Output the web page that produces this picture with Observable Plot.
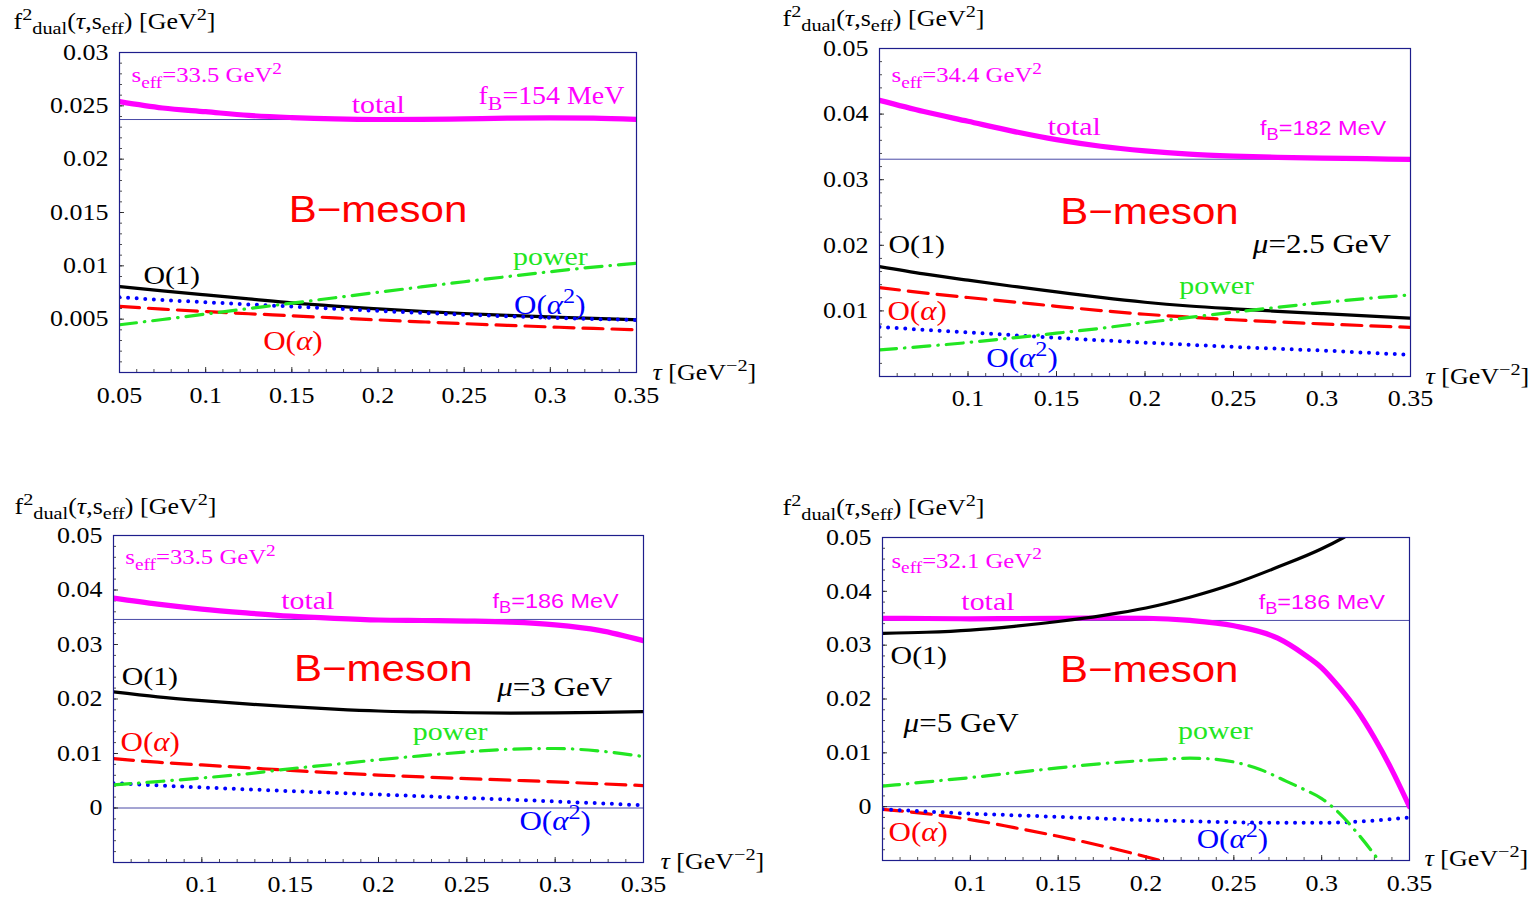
<!DOCTYPE html>
<html><head><meta charset="utf-8">
<script src="https://cdn.jsdelivr.net/npm/d3@7"></script>
<script src="https://cdn.jsdelivr.net/npm/@observablehq/plot@0.6"></script>
<style>
body{margin:0;background:#fff;}
#wrap{position:relative;width:1533px;height:899px;overflow:hidden;background:#fff;}
</style></head><body><div id="wrap"></div>
<script>
// ---------- data ----------
const tauGrid = [0.05,0.075,0.1,0.125,0.15,0.175,0.2,0.225,0.25,0.275,0.3,0.325,0.35];

const p1Total = [0.0254,0.0248,0.02445,0.0241,0.0239,0.02377,0.02372,0.02373,0.02378,0.02384,0.02387,0.02384,0.02373];
const p1O1    = [0.00806,0.00765,0.00727,0.0069,0.00652,0.00622,0.00597,0.00574,0.00553,0.00536,0.00521,0.00507,0.00494];
const p1Oa    = [0.0062,0.00594,0.00572,0.00551,0.00532,0.00512,0.00493,0.00475,0.00458,0.00442,0.00427,0.00413,0.00401];
const p1Oa2   = [0.00706,0.0068,0.00659,0.00638,0.00619,0.00598,0.00578,0.00559,0.00542,0.00527,0.00513,0.00502,0.00492];
const p1Power = [0.00447,0.00497,0.00548,0.00599,0.0065,0.00701,0.00752,0.00802,0.00851,0.00899,0.00945,0.00988,0.01024];

const p2Total = [0.0421,0.0404,0.0389,0.0374,0.0361,0.0351,0.0344,0.0339,0.0336,0.0334,0.0333,0.0332,0.0331];
const p2O1    = [0.01676,0.01565,0.01468,0.01376,0.0129,0.01205,0.01132,0.01075,0.01032,0.00994,0.00958,0.00923,0.0089];
const p2Oa    = [0.01356,0.01275,0.01204,0.01138,0.0107,0.01005,0.00949,0.00905,0.00865,0.00832,0.00802,0.00775,0.0075];
const p2Oa2   = [0.00756,0.00712,0.00672,0.00631,0.0059,0.00552,0.00516,0.00483,0.00452,0.00423,0.00396,0.00363,0.0033];
const p2Power = [0.00405,0.00458,0.00518,0.00588,0.0066,0.00735,0.00821,0.009,0.0098,0.01055,0.01125,0.01188,0.01244];

const p3Total = [0.0385,0.0374,0.0365,0.0358,0.0352,0.0348,0.0345,0.0344,0.0343,0.0341,0.0336,0.0326,0.0307];
const p3O1    = [0.0213,0.0204,0.0197,0.0191,0.0186,0.01815,0.0178,0.01762,0.01748,0.01742,0.01745,0.01755,0.0177];
const p3Oa    = [0.00905,0.0084,0.0079,0.0074,0.0069,0.00645,0.00605,0.0057,0.0054,0.0051,0.0048,0.00445,0.00412];
const p3Oa2   = [0.00456,0.00415,0.00377,0.00343,0.0031,0.00278,0.00247,0.00215,0.00184,0.00153,0.0012,0.00086,0.0005];
const p3Power = [0.00424,0.00485,0.0055,0.00625,0.0072,0.008,0.00885,0.0096,0.0103,0.01078,0.01092,0.01045,0.00943];

const p4TotalTau = [0.05,0.075,0.1,0.125,0.15,0.175,0.2,0.225,0.25,0.275,0.29,0.3,0.31,0.32,0.33,0.34,0.35];
const p4Total    = [0.035,0.03495,0.0349,0.03495,0.035,0.03505,0.035,0.0346,0.0336,0.0313,0.0283,0.0258,0.0222,0.018,0.0128,0.0068,0.0];
const p4O1Tau = [0.05,0.075,0.1,0.125,0.15,0.175,0.2,0.225,0.25,0.275,0.3,0.3125,0.325];
const p4O1    = [0.0322,0.0324,0.0328,0.0335,0.0344,0.0355,0.0369,0.0389,0.0414,0.0445,0.0479,0.0500,0.0524];
const p4OaTau = [0.05,0.075,0.1,0.125,0.15,0.175,0.2,0.225];
const p4Oa    = [-0.0005,-0.0013,-0.0024,-0.0039,-0.0055,-0.0073,-0.0093,-0.0115];
const p4Oa2   = [-0.0005,-0.0009,-0.0013,-0.0016,-0.0019,-0.0022,-0.0025,-0.0027,-0.0029,-0.003,-0.003,-0.0027,-0.002];
const p4PowerTau = [0.05,0.075,0.1,0.125,0.15,0.175,0.2,0.225,0.24,0.25,0.265,0.28,0.29,0.3,0.31,0.32,0.3325,0.34];
const p4Power    = [0.0038,0.0046,0.0054,0.0063,0.0072,0.008,0.0086,0.009,0.0088,0.0083,0.0069,0.0047,0.0032,0.0015,-0.0012,-0.0048,-0.01,-0.0135];

const fBValues = [154, 182, 186, 186]; // MeV
const seffValues = ["33.5", "34.4", "33.5", "32.1"];
const muLabels = [null, "2.5", "3", "5"];

const xTicks1 = [0.05,0.1,0.15,0.2,0.25,0.3,0.35];
const xTicks234 = [0.1,0.15,0.2,0.25,0.3,0.35];
const yTicks1 = [0.005,0.01,0.015,0.02,0.025,0.03];
const yTicks2 = [0.01,0.02,0.03,0.04,0.05];
const yTicks34 = [0,0.01,0.02,0.03,0.04,0.05];

const yLabel = "f^{2}_{dual}(~{τ},s_{eff}) [GeV^{2}]";
const xLabel = "~{τ} [GeV^{−2}]";

// ---------- styles ----------
const MAG="#ff00ff", RED="#ff0000", BLUE="#0000ff", GREEN="#22e622", BLACK="#000000";
const NAVY="#1e1e8c", RULE="#4a4aa6", TICK="#222222";
const SERIF="'Liberation Serif','Times New Roman',serif", SANS="'Liberation Sans',Arial,sans-serif";
const SX = 1.15; // horizontal stretch of the glyphs seen in the reference

function richText(el, src){
  const NS="http://www.w3.org/2000/svg";
  while (el.firstChild) el.removeChild(el.firstChild);
  const parts = src.split(/(_\{[^}]*\}|\^\{[^}]*\}|~\{[^}]*\})/g).filter(s=>s.length);
  let cur = 0;
  for (const p of parts){
    let txt=p, off=0, k=1, it=false;
    if (p.startsWith("_{")) {txt=p.slice(2,-1); off=0.25; k=0.78;}
    else if (p.startsWith("^{")) {txt=p.slice(2,-1); off=-0.4; k=0.78;}
    else if (p.startsWith("~{")) {txt=p.slice(2,-1); it=true;}
    const ts=document.createElementNS(NS,"tspan");
    const dy=(off-cur)/k;
    if (Math.abs(dy)>1e-9) ts.setAttribute("dy", dy.toFixed(3)+"em");
    if (k!==1) ts.setAttribute("font-size", (k*100)+"%");
    if (it) ts.setAttribute("font-style","italic");
    ts.textContent=txt;
    el.appendChild(ts);
    cur=off;
  }
}

function series(tau, vals){ return tau.map((t,i)=>({t, v: vals[i]})); }

const styleTotal = {stroke: MAG, strokeWidth: 5.2};
const styleO1 = {stroke: BLACK, strokeWidth: 3.2};
const styleOa = {stroke: RED, strokeWidth: 3.2, strokeDasharray: "20,9"};
const styleOa2 = {stroke: BLUE, strokeWidth: 4, strokeDasharray: "0,8.6", strokeLinecap: "round"};
const stylePower = {stroke: GREEN, strokeWidth: 3.2, strokeDasharray: "17,8,0.5,8", strokeLinecap: "round"};

const FT = 22.6, FL = 26, FA = 27, FS = 21.5, FB = 36.5;

// ---------- panel layout ----------
const panels = [
  {left:0, top:0, width:766, height:440, mL:119, mT:52, mR:130, mB:68,
   yDomain:[0,0.03], yTicks:yTicks1, yMinorStep:0.001, xTicks:xTicks1, xPad:14, zero:false,
   ylab:[-106,-31], xlab:[16,0],
   lines:[[tauGrid,p1Total,styleTotal],[tauGrid,p1O1,styleO1],[tauGrid,p1Oa,styleOa],[tauGrid,p1Oa2,styleOa2],[tauGrid,p1Power,stylePower]],
   labels:[
     {t:`s_{eff}=${seffValues[0]} GeV^{2}`, x:0.057, y:0.02785, a:"start", c:MAG, s:FS, f:SERIF},
     {t:"total", x:0.2002, y:0.02513, a:"middle", c:MAG, s:FL, f:SERIF},
     {t:`f_{B}=${fBValues[0]} MeV`, x:0.343, y:0.02588, a:"end", c:MAG, s:24.3, f:SERIF},
     {t:"B−meson", x:0.2, y:0.0152, a:"middle", c:RED, s:FB, f:SANS},
     {t:"O(1)", x:0.0639, y:0.00912, a:"start", c:BLACK, s:FL, f:SERIF},
     {t:"power", x:0.30, y:0.0109, a:"middle", c:GREEN, s:FL, f:SERIF},
     {t:"O(~{α}^{2})", x:0.2997, y:0.00631, a:"middle", c:BLUE, s:FA, f:SERIF},
     {t:"O(~{α})", x:0.1506, y:0.00294, a:"middle", c:RED, s:FA, f:SERIF}
   ]},
  {left:766, top:0, width:767, height:440, mL:113, mT:48, mR:123, mB:64,
   yDomain:[0,0.05], yTicks:yTicks2, yMinorStep:0.002, xTicks:xTicks234, xPad:13.4, zero:false,
   ylab:[-97,-30], xlab:[15,0],
   lines:[[tauGrid,p2Total,styleTotal],[tauGrid,p2O1,styleO1],[tauGrid,p2Oa,styleOa],[tauGrid,p2Oa2,styleOa2],[tauGrid,p2Power,stylePower]],
   labels:[
     {t:`s_{eff}=${seffValues[1]} GeV^{2}`, x:0.0568, y:0.0459, a:"start", c:MAG, s:FS, f:SERIF},
     {t:"total", x:0.16, y:0.0381, a:"middle", c:MAG, s:FL, f:SERIF},
     {t:`f_{B}=${fBValues[1]} MeV`, x:0.3363, y:0.0378, a:"end", c:MAG, s:20.4, f:SANS},
     {t:"B−meson", x:0.2025, y:0.0251, a:"middle", c:RED, s:FB, f:SANS},
     {t:`~{μ}=${muLabels[1]} GeV`, x:0.339, y:0.0201, a:"end", c:BLACK, s:FA, f:SERIF},
     {t:"O(1)", x:0.0551, y:0.0201, a:"start", c:BLACK, s:FL, f:SERIF},
     {t:"power", x:0.2405, y:0.01382, a:"middle", c:GREEN, s:FL, f:SERIF},
     {t:"O(~{α})", x:0.0545, y:0.0100, a:"start", c:RED, s:FA, f:SERIF},
     {t:"O(~{α}^{2})", x:0.1305, y:0.00282, a:"middle", c:BLUE, s:FA, f:SERIF}
   ]},
  {left:0, top:450, width:766, height:449, mL:113, mT:85, mR:123, mB:37,
   yDomain:[-0.01,0.05], yTicks:yTicks34, yMinorStep:0.002, xTicks:xTicks234, xPad:13.4, zero:true,
   ylab:[-99,-29], xlab:[17,-1],
   lines:[[tauGrid,p3Total,styleTotal],[tauGrid,p3O1,styleO1],[tauGrid,p3Oa,styleOa],[tauGrid,p3Oa2,styleOa2],[tauGrid,p3Power,stylePower]],
   labels:[
     {t:`s_{eff}=${seffValues[2]} GeV^{2}`, x:0.0567, y:0.046, a:"start", c:MAG, s:FS, f:SERIF},
     {t:"total", x:0.16, y:0.0381, a:"middle", c:MAG, s:FL, f:SERIF},
     {t:`f_{B}=${fBValues[2]} MeV`, x:0.336, y:0.0379, a:"end", c:MAG, s:20.4, f:SANS},
     {t:"B−meson", x:0.2027, y:0.0254, a:"middle", c:RED, s:FB, f:SANS},
     {t:`~{μ}=${muLabels[2]} GeV`, x:0.3323, y:0.0221, a:"end", c:BLACK, s:FA, f:SERIF},
     {t:"O(1)", x:0.0546, y:0.0241, a:"start", c:BLACK, s:FL, f:SERIF},
     {t:"power", x:0.2405, y:0.014, a:"middle", c:GREEN, s:FL, f:SERIF},
     {t:"O(~{α})", x:0.054, y:0.0121, a:"start", c:RED, s:FA, f:SERIF},
     {t:"O(~{α}^{2})", x:0.300, y:-0.0024, a:"middle", c:BLUE, s:FA, f:SERIF}
   ]},
  {left:766, top:450, width:767, height:449, mL:116, mT:87, mR:124, mB:39,
   yDomain:[-0.01,0.05], yTicks:yTicks34, yMinorStep:0.002, xTicks:xTicks234, xPad:14.4, zero:true,
   ylab:[-100,-30], xlab:[15,-2],
   lines:[[p4TotalTau,p4Total,styleTotal],[p4O1Tau,p4O1,styleO1],[p4OaTau,p4Oa,styleOa],[tauGrid,p4Oa2,styleOa2],[p4PowerTau,p4Power,stylePower]],
   labels:[
     {t:`s_{eff}=${seffValues[3]} GeV^{2}`, x:0.0551, y:0.0457, a:"start", c:MAG, s:FS, f:SERIF},
     {t:"total", x:0.11, y:0.0381, a:"middle", c:MAG, s:FL, f:SERIF},
     {t:`f_{B}=${fBValues[3]} MeV`, x:0.336, y:0.038, a:"end", c:MAG, s:20.4, f:SANS},
     {t:"B−meson", x:0.2018, y:0.0254, a:"middle", c:RED, s:FB, f:SANS},
     {t:"O(1)", x:0.0546, y:0.0281, a:"start", c:BLACK, s:FL, f:SERIF},
     {t:`~{μ}=${muLabels[3]} GeV`, x:0.062, y:0.0154, a:"start", c:BLACK, s:FA, f:SERIF},
     {t:"power", x:0.2395, y:0.0141, a:"middle", c:GREEN, s:FL, f:SERIF},
     {t:"O(~{α})", x:0.0534, y:-0.0048, a:"start", c:RED, s:FA, f:SERIF},
     {t:"O(~{α}^{2})", x:0.2492, y:-0.0061, a:"middle", c:BLUE, s:FA, f:SERIF}
   ]}
];

function makePanel(p, idx){
  const innerW = p.width - p.mL - p.mR, innerH = p.height - p.mT - p.mB;
  const xMinor = d3.range(0.06, 0.35, 0.01);
  const yMinor = d3.range(Math.round(p.yDomain[0]/p.yMinorStep), Math.round(p.yDomain[1]/p.yMinorStep)+1).map(i=>i*p.yMinorStep);
  const fb2 = (fBValues[idx]/1000)**2;
  const marks = [];
  marks.push(Plot.ruleY([fb2], {stroke: RULE, strokeWidth: 1}));
  if (p.zero) marks.push(Plot.ruleY([0], {stroke: RULE, strokeWidth: 1}));
  marks.push(Plot.tickX(xMinor, {x: d=>d, insetTop: innerH-3, stroke: TICK, strokeWidth: 0.8}));
  marks.push(Plot.tickX(xTicks1, {x: d=>d, insetTop: innerH-5, stroke: TICK, strokeWidth: 0.9}));
  marks.push(Plot.tickY(yMinor, {y: d=>d, insetRight: innerW-3, stroke: TICK, strokeWidth: 0.8}));
  marks.push(Plot.tickY(p.yTicks, {y: d=>d, insetRight: innerW-5, stroke: TICK, strokeWidth: 0.9}));
  marks.push(Plot.axisX({ticks: p.xTicks, tickSize: 0, tickPadding: p.xPad, tickFormat: d=>String(d), fontSize: FT, fontFamily: SERIF, label: null}));
  marks.push(Plot.axisY({ticks: p.yTicks, tickSize: 0, tickPadding: 11, tickFormat: d=>String(d), fontSize: FT, fontFamily: SERIF, label: null}));
  for (const [tau, vals, st] of p.lines){
    marks.push(Plot.line(series(tau, vals), {x: "t", y: "v", curve: "monotone-x", clip: true, ...st}));
  }
  marks.push(Plot.frame({stroke: NAVY, strokeWidth: 1.2}));
  for (const L of p.labels){
    marks.push(Plot.text([L], {x: "x", y: "y", text: "t", textAnchor: L.a, lineAnchor: "middle", fill: L.c, fontSize: L.s, fontFamily: L.f}));
  }
  marks.push(Plot.text([yLabel], {text: d=>d, frameAnchor: "top-left", textAnchor: "start", lineAnchor: "middle", dx: p.ylab[0], dy: p.ylab[1], fontSize: FT, fontFamily: SERIF, fill: BLACK}));
  marks.push(Plot.text([xLabel], {text: d=>d, frameAnchor: "bottom-right", textAnchor: "start", lineAnchor: "middle", dx: p.xlab[0], dy: p.xlab[1], fontSize: FT, fontFamily: SERIF, fill: BLACK}));
  const svg = Plot.plot({
    width: p.width, height: p.height,
    marginLeft: p.mL, marginRight: p.mR, marginTop: p.mT, marginBottom: p.mB,
    x: {domain: [0.05, 0.35]}, y: {domain: p.yDomain},
    style: {fontFamily: SERIF, fontSize: "22px", background: "transparent", color: BLACK, overflow: "visible"},
    marks
  });
  svg.querySelectorAll("text").forEach(t => {
    const s = t.textContent;
    if (/[_^~]\{/.test(s)) richText(t, s);
    const tr = t.getAttribute("transform");
    if (tr) t.setAttribute("transform", tr + ` scale(${SX},1)`);
    else {
      const x = +t.getAttribute("x") || 0, y = +t.getAttribute("y") || 0;
      t.setAttribute("x", 0); t.setAttribute("y", 0);
      t.setAttribute("transform", `translate(${x},${y}) scale(${SX},1)`);
    }
  });
  svg.style.position = "absolute";
  svg.style.left = p.left + "px";
  svg.style.top = p.top + "px";
  return svg;
}

const wrap = document.getElementById("wrap");
panels.forEach((p, i) => wrap.appendChild(makePanel(p, i)));
</script>
</body></html>
